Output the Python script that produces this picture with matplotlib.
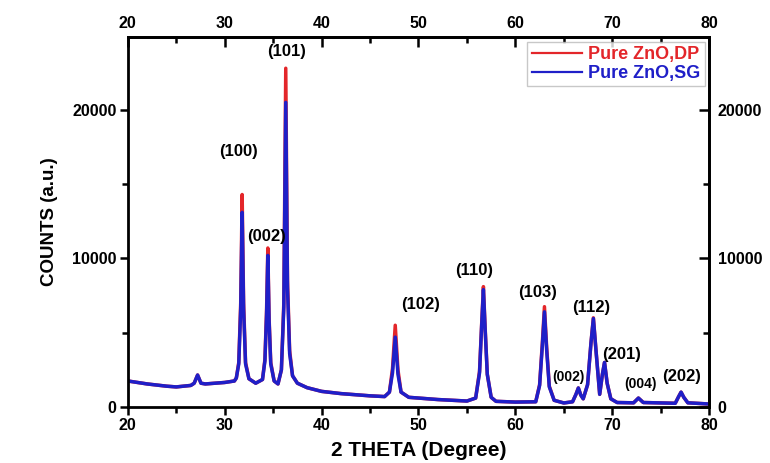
import matplotlib.pyplot as plt
from matplotlib.ticker import MultipleLocator

# 2 theta positions (degree)
two_theta = [20, 22, 24, 25, 26.5, 26.85, 27.2, 27.55, 28, 30, 31, 31.2, 31.45, 31.65, 31.8, 31.95, 32.15, 32.5,
             33.2, 33.9, 34.15, 34.32, 34.45, 34.58, 34.75, 35.1, 35.5, 35.85, 36.1, 36.3, 36.48, 36.7, 37.0,
             37.5, 38.5, 40, 42, 45, 46.5, 47.0, 47.32, 47.6, 47.88, 48.2, 49, 50, 52, 55, 55.9, 56.3,
             56.52, 56.7, 56.88, 57.1, 57.5, 58, 60, 62.1, 62.5, 62.78, 63.0, 63.22, 63.5, 64.0, 65,
             65.9, 66.25, 66.5, 66.75, 67.0, 67.45, 67.8, 68.05, 68.32, 68.7, 68.98, 69.2, 69.47, 69.85, 70.5,
             72.2, 72.7, 73.2, 76.5, 76.85, 77.1, 77.38, 77.8, 80]

counts_dp = [1750, 1550, 1400, 1350, 1450, 1600, 2150, 1600, 1550, 1650, 1750, 1950, 3000, 7000, 14300, 7000, 3000, 1900,
             1600, 1850, 3200, 6500, 10700, 6000, 3000, 1750, 1550, 2500, 7000, 22800, 8500, 3800, 2100,
             1600, 1300, 1050, 900, 750, 700, 1000, 2600, 5500, 2500, 1000, 650, 600, 500, 400, 600, 2400,
             5600, 8100, 5300, 2200, 650, 380, 330, 350, 1500, 4300, 6750, 4100, 1400, 450, 270,
             350, 850, 1280, 800, 550, 1500, 4300, 6000, 3800, 850, 2200, 3000, 1600, 550, 300,
             280, 600, 300, 250, 700, 1000, 650, 280, 200]

counts_sg = [1750, 1550, 1400, 1350, 1450, 1600, 2150, 1600, 1550, 1650, 1750, 1950, 2900, 6600, 13100, 6600, 2900, 1900,
             1600, 1850, 3100, 6200, 10200, 5800, 2900, 1750, 1550, 2500, 6700, 20500, 8000, 3600, 2100,
             1600, 1300, 1050, 900, 750, 700, 1000, 2300, 4700, 2200, 1000, 650, 600, 500, 400, 600, 2300,
             5500, 7900, 5200, 2200, 650, 380, 330, 350, 1450, 4100, 6400, 3900, 1350, 450, 270,
             350, 850, 1280, 800, 550, 1500, 4300, 5950, 3800, 850, 2200, 3000, 1600, 550, 300,
             280, 600, 300, 250, 700, 1000, 650, 280, 200]

# peak labels (hkl) and where they sit
hkl_big = ["(101)", "(100)", "(002)", "(102)", "(110)", "(103)", "(112)", "(201)", "(202)"]
hkl_big_x = [36.4, 31.4, 34.35, 50.25, 55.7, 62.3, 67.8, 71.0, 77.2]
hkl_big_y = [23900, 17200, 11450, 6870, 9200, 7680, 6670, 3500, 2020]
hkl_small = ["(002)", "(004)"]
hkl_small_x = [65.5, 72.9]
hkl_small_y = [2020, 1550]

red = "#e3262a"
blue = "#1f1fc8"
font = "Liberation Sans"

fig = plt.figure(figsize=(7.7, 4.63), dpi=100)
ax = fig.add_axes([0.166, 0.121, 0.755, 0.799])

ax.plot(two_theta, counts_dp, color=red, lw=2.5, label="Pure ZnO,DP")
ax.plot(two_theta, counts_sg, color=blue, lw=2.5, label="Pure ZnO,SG")

ax.set_xlim(20, 80)
ax.set_ylim(0, 24900)

for lab, x, y in zip(hkl_big, hkl_big_x, hkl_big_y):
    ax.text(x, y, lab, ha="center", va="center", fontsize=12, fontweight="bold", family=font)
for lab, x, y in zip(hkl_small, hkl_small_x, hkl_small_y):
    ax.text(x, y, lab, ha="center", va="center", fontsize=10, fontweight="bold", family=font)

ax.set_xlabel("2 THETA (Degree)", fontsize=15, fontweight="bold", family=font, labelpad=6)
ax.set_ylabel("COUNTS (a.u.)", fontsize=13.5, fontweight="bold", family=font, labelpad=10)

ax.xaxis.set_major_locator(MultipleLocator(10))
ax.xaxis.set_minor_locator(MultipleLocator(5))
ax.yaxis.set_major_locator(MultipleLocator(10000))
ax.yaxis.set_minor_locator(MultipleLocator(5000))

ax.tick_params(which="both", direction="out", width=1.8, top=False, right=False, pad=2)
ax.tick_params(which="major", length=6)
ax.tick_params(which="minor", length=4)
for sp in ax.spines.values():
    sp.set_linewidth(2)

# top and right axes with inward ticks
axt = ax.secondary_xaxis("top")
axt.xaxis.set_major_locator(MultipleLocator(10))
axt.xaxis.set_minor_locator(MultipleLocator(5))
axt.tick_params(which="both", direction="in", width=1.8, pad=4)
axt.tick_params(which="major", length=7)
axt.tick_params(which="minor", length=4)
axr = ax.secondary_yaxis("right")
axr.yaxis.set_major_locator(MultipleLocator(10000))
axr.yaxis.set_minor_locator(MultipleLocator(5000))
axr.tick_params(which="both", direction="in", width=1.8, pad=6)
axr.tick_params(which="major", length=7)
axr.tick_params(which="minor", length=4)
for a in (axt, axr):
    for sp in a.spines.values():
        sp.set_linewidth(2)

for a in (ax, axt, axr):
    for t in a.get_xticklabels() + a.get_yticklabels():
        t.set_fontweight("bold")
        t.set_fontsize(11.5)
        t.set_family(font)

leg = ax.legend(loc="upper right", frameon=True, fancybox=False,
                handlelength=2.8, handletextpad=0.3, borderpad=0.25, labelspacing=0.1, borderaxespad=0.25,
                prop={"family": font, "weight": "bold", "size": 13})
leg.get_frame().set_edgecolor("#bbbbbb")
leg.get_frame().set_linewidth(1)
for line in leg.get_lines():
    line.set_linewidth(1.6)
for txt, c in zip(leg.get_texts(), [red, blue]):
    txt.set_color(c)

fig.savefig("out.png", dpi=100)
plt.close()
